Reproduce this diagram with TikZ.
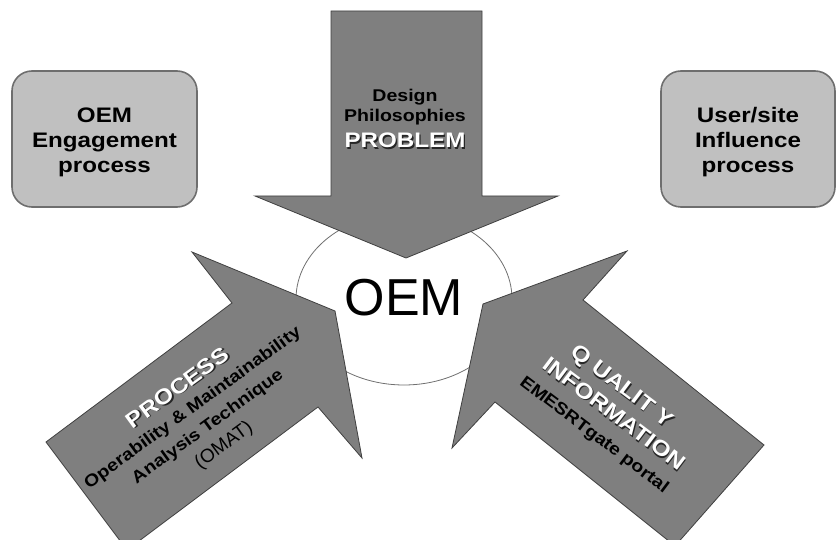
\documentclass[tikz,border=0pt]{standalone}
\usepackage{fontspec}
\setmainfont{Liberation Sans}
\newfontfamily\widesans[FakeStretch=1.15]{Liberation Sans}
\usetikzlibrary{shapes.geometric}
\definecolor{arrowgray}{HTML}{7F7F7F}
\definecolor{arrowedge}{HTML}{404040}
\definecolor{boxfill}{HTML}{C0C0C0}
\definecolor{boxedge}{HTML}{6E6E6E}
\definecolor{ringline}{HTML}{707070}
% white lettering with a dark drop shadow
\newcommand\embossed[1]{\rlap{\kern1.3pt\raisebox{-1.3pt}{\color{black!85}#1}}{\color{white}#1}}
\newcommand\fsz[1]{\fontsize{#1}{#1}\selectfont}

\begin{document}
\begin{tikzpicture}[x=1pt,y=-1pt,
  blockarrow/.style={fill=arrowgray,draw=arrowedge,line width=0.8pt,line join=miter},
  sidebox/.style={draw=boxedge,fill=boxfill,line width=1.6pt,rounded corners=20pt,
    minimum width=#1,minimum height=136pt,inner sep=0pt},
  boxtext/.style={align=center,font=\widesans\bfseries\fontsize{21}{25}\selectfont,inner sep=0pt},
  lbl/.style={inner sep=0pt,anchor=base},
  boldlbl/.style={lbl,font=\widesans\bfseries\fsz{#1}},
]
\useasboundingbox (0,0) rectangle (836,540);
\clip (0,0) rectangle (836,540);

% central hub
\node[ellipse,draw=ringline,line width=0.8pt,fill=white,minimum width=216pt,
  minimum height=172pt,inner sep=0pt] (hub) at (404,299) {};

% three block arrows pointing at the hub
\draw[blockarrow] (331,11) -- (482,11) -- (482,196) -- (558,196) -- (406,258)
  -- (255,196) -- (331,196) -- cycle;
\draw[blockarrow] (46,442) -- (232,303) -- (192,252) -- (335,311) -- (362,458)
  -- (318,407) -- (127,550) -- cycle;
\draw[blockarrow] (483,304) -- (627,251) -- (583,300) -- (764,445) -- (675,546)
  -- (495,402) -- (452,448) -- cycle;

\node[font=\fsz{52},inner sep=0pt] (hubtext) at (404,298) {OEM};

% side process boxes
\node[sidebox=185pt] (leftbox) at (104.5,139) {};
\node[boxtext] (lefttext) at (104.5,142) {OEM\\Engagement\\process};
\node[sidebox=174pt] (rightbox) at (748,139) {};
\node[boxtext] (righttext) at (748,142) {User/site\\Influence\\process};

% top arrow lettering
\node[boldlbl=17] (design) at (405,102) {Design};
\node[boldlbl=17] (philo) at (405,122) {Philosophies};
\node[boldlbl=21] (problem) at (405,148) {\embossed{PROBLEM}};

% lower-left arrow lettering
\begin{scope}[shift={(200,416)},rotate=36]
  \node[boldlbl=21.5,transform shape] (process) at (-1.6,-29) {\embossed{PROCESS}};
  \node[boldlbl=17,transform shape] (omline1) at (-1.2,-6) {Operability \& Maintainability};
  \node[boldlbl=17,transform shape] (omline2) at (-0.2,18) {Analysis Technique};
  \node[lbl,font=\fsz{19},transform shape] (omat) at (2,43) {(OMAT)};
\end{scope}

% lower-right arrow lettering
\begin{scope}[shift={(611,411)},rotate=-37]
  \node[boldlbl=21.5,transform shape] (quality) at (-6,-20) {\embossed{Q UALIT Y}};
  \node[boldlbl=21.5,transform shape] (information) at (4,7) {\embossed{INFORMATION}};
  \node[boldlbl=17,transform shape] (portal) at (1,34) {EMESRTgate portal};
\end{scope}
\end{tikzpicture}
\end{document}
